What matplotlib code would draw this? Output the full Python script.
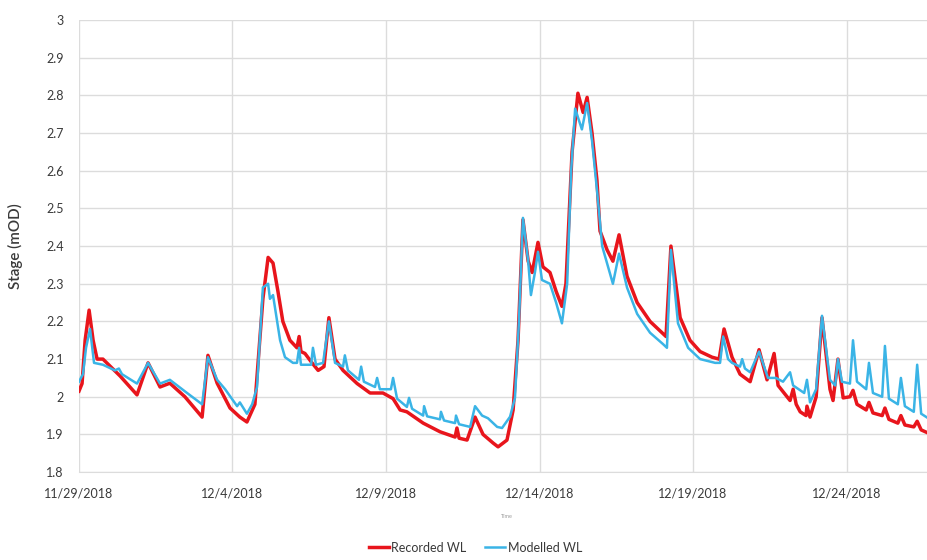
import numpy as np
import pandas as pd
import matplotlib
matplotlib.use("Agg")
import matplotlib.pyplot as plt
import matplotlib.dates as mdates
from matplotlib.ticker import FuncFormatter, MultipleLocator

plt.rcParams["font.family"] = ["Lato", "DejaVu Sans"]

start = pd.Timestamp("2018-11-29")

# Recorded WL: (days since 11/29/2018, stage in mOD)
rec_days = [0.00, 0.10, 0.20, 0.33, 0.46, 0.59, 0.78, 1.34, 1.89, 2.25, 2.64, 2.96,
            3.45, 4.01, 4.20, 4.50, 4.92, 5.24, 5.47, 5.73, 5.99, 6.16, 6.32, 6.48,
            6.64, 6.87, 7.10, 7.17, 7.23, 7.36, 7.59, 7.79, 7.98, 8.14, 8.34, 8.60,
            9.06, 9.48, 9.90, 10.23, 10.46, 10.68, 11.21, 11.76, 12.25, 12.31, 12.38,
            12.64, 12.90, 13.16, 13.49, 13.65, 13.94, 14.14, 14.30, 14.46, 14.63,
            14.76, 14.95, 15.11, 15.34, 15.54, 15.73, 15.86, 16.06, 16.25, 16.42,
            16.55, 16.71, 16.87, 16.97, 17.20, 17.39, 17.59, 17.85, 18.18, 18.60,
            18.99, 19.12, 19.28, 19.58, 19.90, 20.23, 20.62, 20.85, 21.01, 21.27,
            21.53, 21.86, 22.15, 22.41, 22.64, 22.77, 23.16, 23.26, 23.36, 23.49,
            23.68, 23.71, 23.81, 24.01, 24.20, 24.46, 24.56, 24.72, 24.89, 25.11,
            25.21, 25.34, 25.64, 25.73, 25.86, 26.16, 26.25, 26.38, 26.67, 26.77,
            26.90, 27.19, 27.30, 27.43, 27.62]
rec_vals = [2.015, 2.035, 2.15, 2.23, 2.15, 2.10, 2.10, 2.055, 2.005, 2.09, 2.026, 2.036,
            2.00, 1.946, 2.11, 2.036, 1.97, 1.946, 1.933, 1.98, 2.26, 2.37, 2.355, 2.28,
            2.20, 2.15, 2.13, 2.16, 2.12, 2.115, 2.09, 2.07, 2.08, 2.21, 2.10, 2.07,
            2.035, 2.01, 2.01, 1.995, 1.965, 1.96, 1.93, 1.907, 1.893, 1.917, 1.89,
            1.885, 1.946, 1.90, 1.877, 1.867, 1.885, 1.965, 2.15, 2.47, 2.36,
            2.33, 2.41, 2.345, 2.33, 2.28, 2.24, 2.30, 2.65, 2.806, 2.755,
            2.795, 2.70, 2.575, 2.44, 2.39, 2.36, 2.43, 2.32, 2.25, 2.20,
            2.17, 2.16, 2.40, 2.21, 2.15, 2.12, 2.105, 2.10, 2.18, 2.105,
            2.06, 2.04, 2.125, 2.045, 2.115, 2.03, 1.99, 2.02, 1.98, 1.96,
            1.95, 1.975, 1.946, 2.00, 2.21, 2.02, 1.99, 2.10, 1.997, 2.00,
            2.017, 1.98, 1.965, 1.985, 1.957, 1.95, 1.97, 1.94, 1.93, 1.95,
            1.925, 1.92, 1.935, 1.912, 1.905]

# Modelled WL
mod_days = [0.00, 0.13, 0.23, 0.36, 0.49, 0.78, 1.17, 1.30, 1.40, 1.89, 2.25, 2.64,
            2.96, 3.52, 4.01, 4.20, 4.50, 4.76, 5.15, 5.24, 5.47, 5.64, 5.80, 5.99,
            6.16, 6.22, 6.32, 6.55, 6.71, 6.97, 7.10, 7.17, 7.23, 7.36, 7.56, 7.62,
            7.72, 7.95, 8.14, 8.34, 8.60, 8.66, 8.76, 9.12, 9.19, 9.28, 9.64, 9.71,
            9.80, 10.16, 10.23, 10.36, 10.68, 10.75, 10.85, 11.21, 11.24, 11.34,
            11.76, 11.79, 11.89, 12.25, 12.28, 12.38, 12.74, 12.90, 13.13, 13.32,
            13.62, 13.78, 14.04, 14.20, 14.33, 14.46, 14.63, 14.72, 14.85, 14.95,
            15.08, 15.34, 15.54, 15.73, 15.90, 16.03, 16.16, 16.38, 16.55, 16.71,
            16.87, 17.04, 17.39, 17.59, 17.85, 18.18, 18.60, 19.02, 19.15, 19.28,
            19.51, 19.84, 20.23, 20.72, 20.88, 20.98, 21.14, 21.27, 21.53, 21.60,
            21.69, 21.86, 22.15, 22.44, 22.70, 22.93, 23.16, 23.26, 23.62, 23.71,
            23.81, 24.01, 24.20, 24.46, 24.63, 24.72, 24.85, 25.11, 25.21, 25.34,
            25.64, 25.73, 25.86, 26.16, 26.25, 26.38, 26.67, 26.77, 26.90, 27.19,
            27.30, 27.43, 27.62]
mod_vals = [2.04, 2.06, 2.13, 2.18, 2.09, 2.085, 2.07, 2.075, 2.06, 2.035, 2.09, 2.035,
            2.045, 2.01, 1.98, 2.105, 2.045, 2.02, 1.975, 1.985, 1.955, 1.98, 2.026, 2.29,
            2.30, 2.26, 2.27, 2.15, 2.105, 2.09, 2.09, 2.13, 2.085, 2.085, 2.085, 2.13,
            2.085, 2.09, 2.20, 2.09, 2.08, 2.11, 2.07, 2.045, 2.08, 2.04, 2.026, 2.05,
            2.02, 2.02, 2.05, 1.995, 1.973, 1.997, 1.968, 1.95, 1.975, 1.948,
            1.94, 1.96, 1.937, 1.93, 1.95, 1.927, 1.92, 1.975, 1.95, 1.943,
            1.92, 1.917, 1.947, 1.997, 2.20, 2.475, 2.36, 2.27, 2.33, 2.385,
            2.31, 2.30, 2.25, 2.195, 2.30, 2.60, 2.765, 2.71, 2.78, 2.68,
            2.55, 2.40, 2.30, 2.38, 2.29, 2.22, 2.17, 2.14, 2.13, 2.39,
            2.195, 2.13, 2.10, 2.09, 2.09, 2.16, 2.10, 2.09, 2.08, 2.10,
            2.075, 2.065, 2.12, 2.05, 2.05, 2.04, 2.065, 2.03, 2.01, 2.045,
            1.985, 2.02, 2.215, 2.045, 2.03, 2.10, 2.04, 2.035, 2.15, 2.04,
            2.02, 2.09, 2.01, 2.00, 2.135, 1.995, 1.98, 2.05, 1.975, 1.96,
            2.085, 1.955, 1.945]

tick_dates = pd.date_range("2018-11-29", periods=6, freq="5D")

rec_t = start + pd.to_timedelta(rec_days, unit="D")
mod_t = start + pd.to_timedelta(mod_days, unit="D")

red = "#e8151c"
blue = "#3ab4e6"
txt = "#3a3a3a"
grid = "#dcdcdc"

fig = plt.figure(figsize=(9.27, 5.6), dpi=100)
ax = fig.add_axes([0.0852, 0.157, 0.9148, 0.807])

ax.plot(rec_t, rec_vals, color=red, lw=2.5, solid_joinstyle="round", zorder=3)
ax.plot(mod_t, mod_vals, color=blue, lw=1.8, solid_joinstyle="round", zorder=4)

ax.set_ylim(1.8, 3.0)
ax.set_xlim(start, start + pd.Timedelta(days=27.62))
ax.yaxis.set_major_locator(MultipleLocator(0.1))
ax.yaxis.set_major_formatter(FuncFormatter(lambda v, p: f"{v:.1f}".rstrip("0").rstrip(".")))
ax.set_xticks(tick_dates)
ax.xaxis.set_major_formatter(FuncFormatter(
    lambda v, p: "{d.month}/{d.day}/{d.year}".format(d=mdates.num2date(v))))

ax.grid(True, color=grid, lw=1.0)
ax.set_axisbelow(True)
for s in ["top", "right", "left"]:
    ax.spines[s].set_visible(False)
ax.spines["bottom"].set_color(grid)
ax.tick_params(axis="both", length=0, labelsize=9, colors=txt)
ax.tick_params(axis="y", pad=11)
ax.tick_params(axis="x", pad=11)

ax.set_ylabel("Stage (mOD)", fontsize=11, color=txt, fontweight="semibold")
ax.yaxis.set_label_coords(-0.066, 0.5)
fig.text(0.547, 0.078, "Time", fontsize=4, color="#999999", ha="center", va="center")

fig.legend(["Recorded WL", "Modelled WL"], loc="center", bbox_to_anchor=(0.513, 0.022),
           ncol=2, frameon=False, fontsize=9, handlelength=1.6, handletextpad=0.2,
           columnspacing=1.5, labelcolor=txt)

fig.savefig("out.png", dpi=100)
